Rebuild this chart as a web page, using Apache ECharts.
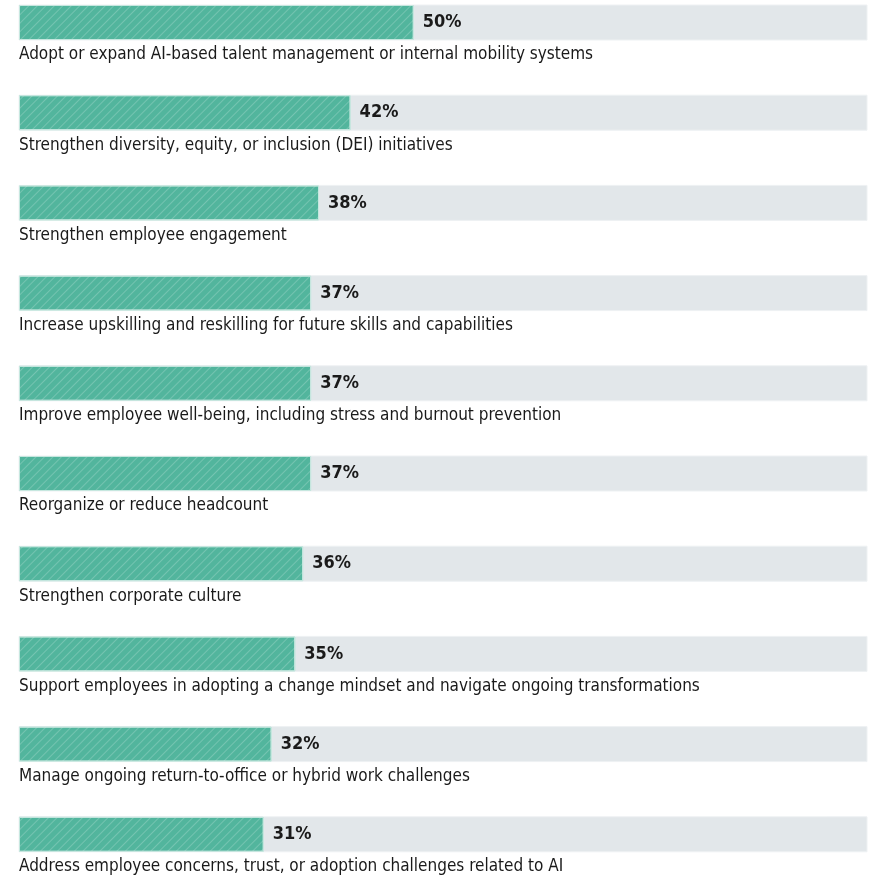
<!DOCTYPE html>
<html>
<head>
<meta charset="utf-8">
<script src="https://cdn.jsdelivr.net/npm/echarts@6/dist/echarts.min.js"></script>
<style>
  html, body { margin: 0; padding: 0; background: #ffffff; }
  #chart { width: 871px; height: 882px; }
</style>
</head>
<body>
<div id="chart"></div>
<script>
// Share of respondents naming each HR priority
const categories = [
  'Adopt or expand AI-based talent management or internal mobility systems',
  'Strengthen diversity, equity, or inclusion (DEI) initiatives',
  'Strengthen employee engagement',
  'Increase upskilling and reskilling for future skills and capabilities',
  'Improve employee well-being, including stress and burnout prevention',
  'Reorganize or reduce headcount',
  'Strengthen corporate culture',
  'Support employees in adopting a change mindset and navigate ongoing transformations',
  'Manage ongoing return-to-office or hybrid work challenges',
  'Address employee concerns, trust, or adoption challenges related to AI'
];
const values = [50, 42, 38, 37, 37, 37, 36, 35, 32, 31];

const FONT = '"DejaVu Sans Condensed", "Liberation Sans Narrow", sans-serif';
const AXIS_MAX = 107.4;

const chart = echarts.init(document.getElementById('chart'), null, { renderer: 'canvas' });

chart.setOption({
  animation: false,
  // category ticks sit on the bar centres (boundaryGap off), first at top, last at bottom
  grid: { left: 19, right: 4, top: 22.5, height: 811.8, containLabel: false },
  xAxis: {
    type: 'value', min: 0, max: AXIS_MAX,
    show: false
  },
  yAxis: {
    type: 'category', data: categories, inverse: true,
    boundaryGap: false,
    show: false
  },
  series: [
    {
      name: 'share',
      type: 'bar',
      data: values,
      barWidth: 35,
      showBackground: true,
      backgroundStyle: { color: '#e2e7ea', borderColor: '#eef1f3', borderWidth: 1 },
      itemStyle: {
        color: '#52b59d',
        borderColor: '#c6e7df',
        borderWidth: 1,
        decal: {
          symbol: 'rect',
          dashArrayX: [1, 0],
          dashArrayY: [1, 4.5],
          rotation: -Math.PI / 4,
          color: 'rgba(255,255,255,0.2)'
        }
      },
      label: {
        show: true,
        position: 'right',
        distance: 9,
        formatter: '{c}%',
        fontFamily: FONT,
        fontSize: 18,
        fontWeight: 'bold',
        color: '#1a1a1a'
      },
      z: 2
    },
    {
      name: 'caption',
      type: 'bar',
      data: values,
      barWidth: 35,
      barGap: '-100%',
      silent: true,
      itemStyle: { color: 'transparent' },
      label: {
        show: true,
        position: [0, '100%'],
        offset: [0, 15],
        align: 'left',
        verticalAlign: 'middle',
        formatter: '{b}',
        fontFamily: FONT,
        fontSize: 17,
        color: '#1a1a1a'
      },
      z: 1
    }
  ]
});
</script>
</body>
</html>
